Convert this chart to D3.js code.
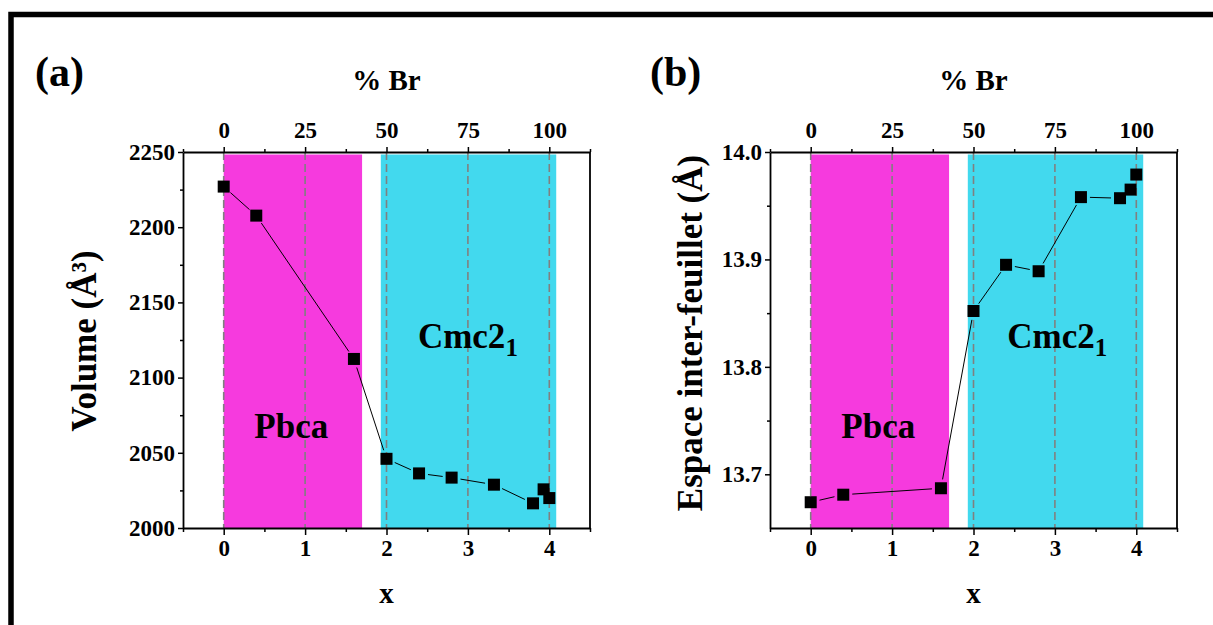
<!DOCTYPE html>
<html><head><meta charset="utf-8">
<script src="https://cdn.jsdelivr.net/npm/d3@7/dist/d3.min.js"></script>
<style>
body{margin:0;background:#fff}
text{font-family:"Liberation Serif","Times New Roman",serif;font-weight:bold;fill:#000}
</style>
</head><body>
<svg id="chart" width="1213" height="625"></svg>
<script>
// ---------- data ----------
const xValues   = [0, 0.4, 1.6, 2, 2.4, 2.8, 3.32, 3.8, 3.93, 4];
const volume    = [2227, 2207.7, 2112.4, 2046, 2036.3, 2033.5, 2028.8, 2016.4, 2025.7, 2019.9];
const spacing   = [13.674, 13.681, 13.687, 13.852, 13.895, 13.889, 13.958, 13.957, 13.965, 13.979];
const phaseNames = ["Pbca", "Cmc2"];
const phaseSubs  = ["", "1"];
const phaseStart = [0, 1.93];
const phaseEnd   = [1.7, 4.085];
const xTicks     = [0, 1, 2, 3, 4];
const brTicks    = [0, 25, 50, 75, 100];
const volTicks   = [2000, 2050, 2100, 2150, 2200, 2250];
const spTicks    = [13.7, 13.8, 13.9, 14.0];
const panelLetters = ["(a)", "(b)"];
const yTitles    = ["Volume (Å³)", "Espace inter-feuillet (Å)"];

// ---------- styles ----------
const phaseColors = ["#f63ade", "#42d9ee"];
const svg = d3.select("#chart");

// outer frame (top + left visible)
svg.append("path").attr("d", "M11,1000 L11,14.5 L1300,14.5")
  .attr("fill", "none").attr("stroke", "#000").attr("stroke-width", 5.5);

function panel(cfg) {
  const L = cfg.left, R = cfg.right, T = 152, B = 528;
  const x = d3.scaleLinear().domain([-0.5, 4.5]).range([L, R]);
  const xt = d3.scaleLinear().domain([-12.5, 112.5]).range([L, R]);
  const y = d3.scaleLinear().domain(cfg.yDomain).range([B, T]);
  const g = svg.append("g");

  // phase regions
  phaseNames.forEach((n, i) => {
    g.append("rect")
      .attr("x", x(phaseStart[i])).attr("width", x(phaseEnd[i]) - x(phaseStart[i]))
      .attr("y", y(cfg.yDomain[1]) + 2.5).attr("height", y(cfg.yDomain[0]) - y(cfg.yDomain[1]) - 2.5)
      .attr("fill", phaseColors[i]);
  });

  // dashed vertical grid lines at major x ticks
  g.selectAll(".vgrid").data(xTicks).enter().append("line")
    .attr("x1", d => x(d)).attr("x2", d => x(d)).attr("y1", T).attr("y2", B)
    .attr("stroke", "#808080").attr("stroke-width", 1.6).attr("stroke-dasharray", "8,4");

  // phase labels
  const lbl = [cfg.pbcaPos, cfg.cmcPos];
  phaseNames.forEach((n, i) => {
    const t = g.append("text").attr("x", x(lbl[i][0])).attr("y", y(lbl[i][1]))
      .attr("text-anchor", "middle").attr("font-size", 35);
    t.append("tspan").text(n);
    if (phaseSubs[i]) t.append("tspan").attr("font-size", 25).attr("dy", 8).text(phaseSubs[i]);
  });

  // connecting line segments with gaps near markers
  const vals = cfg.values;
  const pts = xValues.map((v, i) => [x(v), y(vals[i])]);
  const gap = 9;
  for (let i = 0; i < pts.length - 1; i++) {
    const [x1, y1] = pts[i], [x2, y2] = pts[i + 1];
    const dx = x2 - x1, dy = y2 - y1, len = Math.hypot(dx, dy);
    if (len <= 2 * gap) continue;
    const ux = dx / len, uy = dy / len;
    g.append("line")
      .attr("x1", x1 + ux * gap).attr("y1", y1 + uy * gap)
      .attr("x2", x2 - ux * gap).attr("y2", y2 - uy * gap)
      .attr("stroke", "#000").attr("stroke-width", 1);
  }
  // markers
  g.selectAll(".mk").data(xValues).enter().append("rect")
    .attr("x", (d) => x(d) - 6).attr("y", (d, i) => y(vals[i]) - 6)
    .attr("width", 12).attr("height", 12).attr("fill", "#000");

  // axes
  function styleAxis(a, fs) {
    a.selectAll("path").attr("stroke", "#000").attr("stroke-width", 1.8);
    a.selectAll("line").attr("stroke", "#000").attr("stroke-width", 1.5);
    a.selectAll("text").attr("font-size", fs)
      .attr("font-family", '"Liberation Serif","Times New Roman",serif').attr("font-weight", "bold");
  }
  const minorX = d3.range(-0.5, 4.51, 0.5).filter(v => !xTicks.includes(v));
  const minorBr = d3.range(-12.5, 112.6, 12.5).filter(v => !brTicks.includes(v));
  const minorY = cfg.minorY;

  const bx = g.append("g").attr("transform", `translate(0,${B})`)
    .call(d3.axisBottom(x).tickValues(xTicks).tickSize(7).tickSizeOuter(0).tickPadding(5).tickFormat(d3.format("d")));
  styleAxis(bx, 23);
  const bxm = g.append("g").attr("transform", `translate(0,${B})`)
    .call(d3.axisBottom(x).tickValues(minorX).tickSize(4).tickFormat(""));
  bxm.select("path").remove(); styleAxis(bxm, 23);

  const tx = g.append("g").attr("transform", `translate(0,${T})`)
    .call(d3.axisTop(xt).tickValues(brTicks).tickSize(5).tickSizeOuter(0).tickPadding(9).tickFormat(d3.format("d")));
  styleAxis(tx, 23);
  const txm = g.append("g").attr("transform", `translate(0,${T})`)
    .call(d3.axisTop(xt).tickValues(minorBr).tickSize(3).tickFormat(""));
  txm.select("path").remove(); styleAxis(txm, 23);

  const ly = g.append("g").attr("transform", `translate(${L},0)`)
    .call(d3.axisLeft(y).tickValues(cfg.yTicks).tickSize(5).tickSizeOuter(0).tickPadding(3).tickFormat(cfg.fmt));
  styleAxis(ly, 23);
  const lym = g.append("g").attr("transform", `translate(${L},0)`)
    .call(d3.axisLeft(y).tickValues(minorY).tickSize(3).tickFormat(""));
  lym.select("path").remove(); styleAxis(lym, 23);

  g.append("line").attr("x1", R).attr("x2", R).attr("y1", T).attr("y2", B)
    .attr("stroke", "#000").attr("stroke-width", 1.8);

  // titles
  g.append("text").attr("x", (L + R) / 2).attr("y", 90).attr("text-anchor", "middle")
    .attr("font-size", 29).text("% Br");
  g.append("text").attr("x", (L + R) / 2).attr("y", 603).attr("text-anchor", "middle")
    .attr("font-size", 29).text("x");
  g.append("text").attr("transform", `translate(${cfg.yTitleX},${cfg.yTitleY}) rotate(-90)`)
    .attr("text-anchor", "middle").attr("font-size", 35).text(cfg.yTitle);
  g.append("text").attr("x", cfg.letterX).attr("y", 86).attr("font-size", 42).text(cfg.letter);
}

panel({
  left: 183, right: 590, yDomain: [2000, 2250], values: volume,
  yTicks: volTicks, minorY: [2025, 2075, 2125, 2175, 2225], fmt: d3.format("d"),
  pbcaPos: [0.83, 2060], cmcPos: [3.0, 2120],
  yTitle: yTitles[0], yTitleX: 96, yTitleY: 341, letter: panelLetters[0], letterX: 35
});
panel({
  left: 770, right: 1177, yDomain: [13.65, 14.0], values: spacing,
  yTicks: spTicks, minorY: [13.75, 13.85, 13.95], fmt: d3.format(".1f"),
  pbcaPos: [0.83, 13.734], cmcPos: [3.03, 13.8175],
  yTitle: yTitles[1], yTitleX: 702, yTitleY: 333, letter: panelLetters[1], letterX: 650
});
</script>
</body></html>
